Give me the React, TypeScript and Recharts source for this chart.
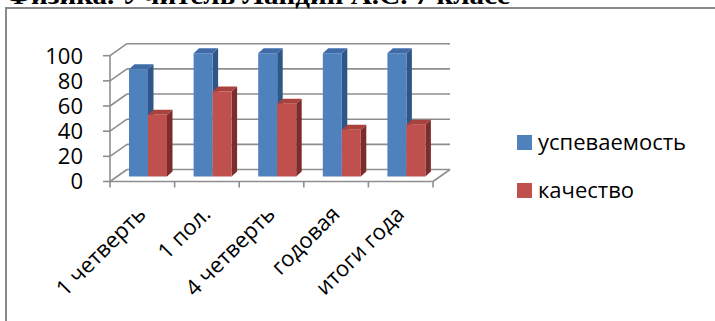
import React from 'react';
import { BarChart, Bar, XAxis, YAxis, CartesianGrid } from 'recharts';

const title = 'Физика. Учитель Ландин А.С. 7 класс';
const categories = ['1 четверть', '1 пол.', '4 четверть', 'годовая', 'итоги года'];
const uspevaemost = [87, 100, 100, 100, 100];
const kachestvo = [50, 69, 59, 38, 42];
const seriesNames = ['успеваемость', 'качество'];
const yTicks = [0, 20, 40, 60, 80, 100];

const data = categories.map((c, i) => ({ name: c, a: uspevaemost[i], b: kachestvo[i] }));

const WALL_DX = 17;
const WALL_DY = -12;
const GRID = '#8e8e8e';
const GW = 1.6;
const FONT = '"Open Sans", "Noto Sans", sans-serif';

const BLUE = { front: '#4F81BD', top: '#3F6CA6', side: '#2F5688' };
const RED = { front: '#C0504D', top: '#A9423F', side: '#7B2D2B' };

const wallLine = (p: any) => (
  <g key={p.key ?? `w${p.index}`}>
    <line x1={p.x1} y1={p.y1} x2={p.x1 + WALL_DX} y2={p.y1 + WALL_DY} stroke={GRID} strokeWidth={GW} />
    <line x1={p.x1 + WALL_DX} y1={p.y1 + WALL_DY} x2={p.x2 + WALL_DX} y2={p.y2 + WALL_DY} stroke={GRID} strokeWidth={GW} />
  </g>
);

const YTick = (p: any) => (
  <text x={p.x} y={p.y} dy="0.36em" textAnchor="end" fontFamily={FONT} fontSize={22} fill="#000">
    {p.payload.value}
  </text>
);

const XTick = (p: any) => {
  const { x, y, index, payload } = p;
  const half = payload && payload.offset ? payload.offset : 32.3;
  const last = index === categories.length - 1;
  return (
    <g>
      <line x1={x - half} y1={y} x2={x - half} y2={y + 6} stroke={GRID} strokeWidth={GW} />
      {last && <line x1={x + half} y1={y} x2={x + half} y2={y + 6} stroke={GRID} strokeWidth={GW} />}
      {last && <line x1={x + half} y1={y} x2={x + half + WALL_DX} y2={y + WALL_DY} stroke={GRID} strokeWidth={GW} />}
      <text
        transform={`translate(${x + 5},${y + 34}) rotate(-45)`}
        textAnchor="end"
        fontFamily={FONT}
        fontSize={22}
        fill="#000"
      >
        {payload.value}
      </text>
    </g>
  );
};

const make3D = (c: { front: string; top: string; side: string }) => (p: any) => {
  const { x, y, width, height } = p;
  if (x == null || y == null || !width || height == null) return <g />;
  const bx = x + 6;
  const bottom = y + height - 5;
  const h = height * 0.98;
  const ty = bottom - h;
  const dx = 5.5;
  const dy = -5;
  return (
    <g>
      <polygon
        points={`${bx + width},${ty} ${bx + width + dx},${ty + dy} ${bx + width + dx},${bottom + dy} ${bx + width},${bottom}`}
        fill={c.side}
      />
      <polygon
        points={`${bx},${ty} ${bx + width},${ty} ${bx + width + dx},${ty + dy} ${bx + dx},${ty + dy}`}
        fill={c.top}
      />
      <rect x={bx} y={ty} width={width} height={h} fill={c.front} />
    </g>
  );
};

export default function App() {
  return (
    <div
      style={{
        position: 'absolute',
        left: 0,
        top: 0,
        width: 715,
        height: 321,
        overflow: 'hidden',
        background: '#fff',
      }}
    >
      <div
        style={{
          position: 'absolute',
          left: 5,
          top: 7,
          width: 800,
          height: 400,
          borderLeft: '2px solid #8a8a8a',
          borderTop: '2px solid #8a8a8a',
          boxSizing: 'border-box',
        }}
      />
      <div style={{ position: 'absolute', left: 0, top: 0 }}>
        <BarChart
          width={715}
          height={321}
          data={data}
          margin={{ top: 55.7, right: 282, bottom: 109.5, left: 50 }}
          barGap={0}
        >
          <CartesianGrid horizontal={wallLine} vertical={false} />
          <XAxis
            dataKey="name"
            interval={0}
            height={30}
            tickSize={0}
            tickMargin={0}
            tickLine={false}
            axisLine={{ stroke: GRID, strokeWidth: GW }}
            tick={<XTick />}
          />
          <YAxis
            type="number"
            domain={[0, 100]}
            ticks={yTicks}
            interval={0}
            width={60}
            tickSize={7}
            tickMargin={20}
            axisLine={{ stroke: GRID, strokeWidth: GW }}
            tickLine={{ stroke: GRID, strokeWidth: GW }}
            tick={<YTick />}
          />
          <Bar dataKey="a" name={seriesNames[0]} barSize={19} fill={BLUE.front} isAnimationActive={false} shape={make3D(BLUE)} />
          <Bar dataKey="b" name={seriesNames[1]} barSize={19} fill={RED.front} isAnimationActive={false} shape={make3D(RED)} />
        </BarChart>
      </div>
      <svg style={{ position: 'absolute', left: 0, top: 0 }} width={715} height={321}>
        <text
          x={6}
          y={4}
          fontFamily='"Liberation Serif", "Times New Roman", serif'
          fontWeight="bold"
          fontSize={26}
          textLength={504}
          lengthAdjust="spacingAndGlyphs"
          fill="#000"
        >
          {title}
        </text>
        <rect x={517} y={135} width={15} height={15} fill={BLUE.front} />
        <text x={538} y={150} fontFamily={FONT} fontSize={22} fill="#000">
          {seriesNames[0]}
        </text>
        <rect x={517} y={183} width={15} height={15} fill={RED.front} />
        <text x={538} y={198} fontFamily={FONT} fontSize={22} fill="#000">
          {seriesNames[1]}
        </text>
      </svg>
    </div>
  );
}
